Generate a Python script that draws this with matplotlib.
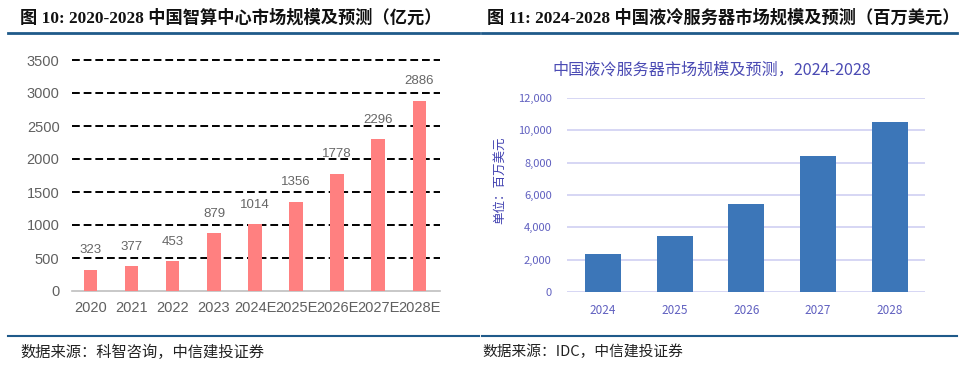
import matplotlib
matplotlib.use("Agg")
import matplotlib.pyplot as plt
from matplotlib.lines import Line2D

plt.rcParams['font.family'] = ['Noto Sans CJK SC', 'DejaVu Sans']

# ---- data ----
left_title = "图 10: 2020-2028 中国智算中心市场规模及预测（亿元）"
left_cats = ["2020", "2021", "2022", "2023", "2024E", "2025E", "2026E", "2027E", "2028E"]
left_vals = [323, 377, 453, 879, 1014, 1356, 1778, 2296, 2886]
left_yticks = [0, 500, 1000, 1500, 2000, 2500, 3000, 3500]
left_source = "数据来源：科智咨询，中信建投证券"

right_title = "图 11: 2024-2028 中国液冷服务器市场规模及预测（百万美元）"
right_inner_title = "中国液冷服务器市场规模及预测，2024-2028"
right_cats = ["2024", "2025", "2026", "2027", "2028"]
right_vals = [2350, 3460, 5450, 8390, 10540]
right_yticks = [0, 2000, 4000, 6000, 8000, 10000, 12000]
right_ylabel = "单位：百万美元"
right_source = "数据来源：IDC，中信建投证券"

W, H = 960, 370
fig = plt.figure(figsize=(W / 100, H / 100), dpi=100)

def fx(px):
    return px / W

def fy(py):
    return 1 - py / H

title_font = ['Liberation Serif', 'Noto Sans CJK SC']
line_col = '#1f5a8a'

# headers
fig.text(fx(20), fy(18), left_title, fontsize=12.4, fontweight='bold',
         family=title_font, va='center', ha='left', color='#111111')
fig.text(fx(487), fy(18), right_title, fontsize=12.4, fontweight='bold',
         family=title_font, va='center', ha='left', color='#111111')
for (x0, x1) in [(8, 479), (482, 957)]:
    fig.add_artist(Line2D([fx(x0), fx(x1)], [fy(33), fy(33)], color=line_col, lw=2))
    fig.add_artist(Line2D([fx(x0), fx(x1)], [fy(336), fy(336)], color=line_col, lw=1.5))

fig.text(fx(20), fy(352), left_source, fontsize=11, fontstyle='italic',
         va='center', ha='left', color='#222222')
fig.text(fx(482), fy(352), right_source, fontsize=10.6, fontstyle='italic',
         va='center', ha='left', color='#222222')

# ---- left chart ----
axL = fig.add_axes([fx(72), fy(291), fx(440) - fx(72), fy(60) - fy(291)])
xL = list(range(len(left_cats)))
axL.bar(xL, left_vals, width=0.32, color='#ff8080', zorder=3)
axL.set_xlim(-0.46, 8.51)
axL.set_ylim(0, 3500)
axL.set_yticks(left_yticks)
for v in left_yticks[1:]:
    axL.axhline(v, color='black', lw=1.4, ls=(0, (4, 2)), zorder=1, clip_on=False)
for s in ['top', 'right', 'left']:
    axL.spines[s].set_visible(False)
axL.spines['bottom'].set_color('#bfbfbf')
axL.spines['bottom'].set_linewidth(1.2)
axL.set_xticks(xL)
axL.set_xticklabels(left_cats)
axL.tick_params(axis='both', length=0, labelsize=10.5, labelcolor='#606060')
axL.tick_params(axis='y', pad=9)
axL.tick_params(axis='x', pad=7)
for lab in axL.get_xticklabels() + axL.get_yticklabels():
    lab.set_family(['Liberation Sans', 'DejaVu Sans'])
for x, v in zip(xL, left_vals):
    axL.annotate(str(v), (x, v), xytext=(0, 14), textcoords='offset points',
                 ha='center', va='center', fontsize=9.5, color='#666666',
                 family=['Liberation Sans', 'DejaVu Sans'], zorder=4)

# ---- right chart ----
axR = fig.add_axes([fx(567), fy(292), fx(925) - fx(567), fy(98) - fy(292)])
xR = list(range(len(right_cats)))
axR.bar(xR, right_vals, width=0.5, color='#3c76b8', zorder=3)
axR.set_xlim(-0.5, 4.49)
axR.set_ylim(0, 12000)
axR.set_yticks(right_yticks)
axR.set_yticklabels([f"{v:,}" for v in right_yticks])
axR.grid(axis='y', color='#cfcff2', lw=1.2, zorder=0)
for s in ['top', 'right', 'left', 'bottom']:
    axR.spines[s].set_visible(False)
axR.set_xticks(xR)
axR.set_xticklabels(right_cats)
axR.tick_params(axis='both', length=0, labelsize=8, labelcolor='#6060c0')
axR.tick_params(axis='y', pad=11)
axR.tick_params(axis='x', pad=9)
axR.tick_params(axis='x', labelsize=8.5)
axR.set_ylabel(right_ylabel, fontsize=9, color='#4040b0')
axR.yaxis.set_label_coords(-0.17, 0.577)
fig.text(fx(712), fy(70), right_inner_title, fontsize=11.6, color='#4b4bb4',
         ha='center', va='center')

fig.savefig("out.png", dpi=100)
